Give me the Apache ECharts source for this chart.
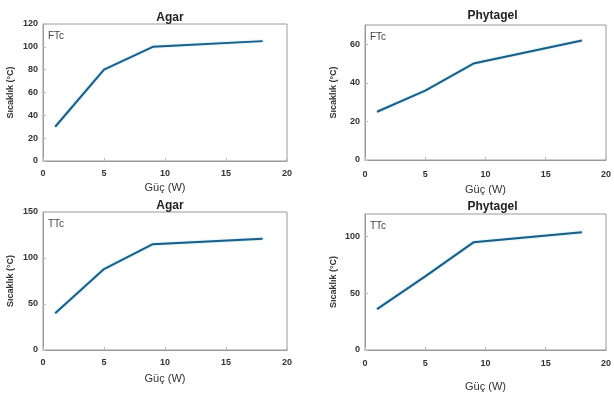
<!DOCTYPE html>
<html>
<head>
<meta charset="utf-8">
<script src="https://cdn.jsdelivr.net/npm/echarts@6/dist/echarts.min.js"></script>
<style>
  html, body { margin: 0; padding: 0; background: #fff; }
  #chart { width: 614px; height: 397px; }
</style>
</head>
<body>
<div id="chart"></div>
<script>
// power (W)
var guc = [1, 5, 9, 18];
// temperatures (°C)
var agarFTc = [30, 80, 100, 105];
var phytagelFTc = [25, 36, 50, 62];
var agarTTc = [40, 88, 115, 121];
var phytagelTTc = [36, 65, 95, 104];

var titles = ['Agar', 'Phytagel', 'Agar', 'Phytagel'];
var labels = ['FTc', 'FTc', 'TTc', 'TTc'];
var yMax = [120, 70, 150, 120];
var yStep = [20, 20, 50, 50];
var seriesData = [agarFTc, phytagelFTc, agarTTc, phytagelTTc];

var grids = [
  { left: 43, top: 24, width: 244, height: 137, titleTop: 7, xGap: 21, xMargin: 8, yGap: 28 },
  { left: 365, top: 25, width: 245, height: 135, titleTop: 5, xGap: 24, xMargin: 10, yGap: 27 },
  { left: 43, top: 212, width: 244, height: 138, titleTop: 195, xGap: 23, xMargin: 8, yGap: 28 },
  { left: 365, top: 214, width: 245, height: 136, titleTop: 196, xGap: 31, xMargin: 9, yGap: 27 }
];

var font = 'Liberation Sans';
var chart = echarts.init(document.getElementById('chart'));

var option = {
  animation: false,
  backgroundColor: '#fff',
  title: [],
  grid: [],
  xAxis: [],
  yAxis: [],
  series: [],
  graphic: []
};

grids.forEach(function (g, i) {
  option.grid.push({
    left: g.left, top: g.top, width: g.width, height: g.height,
    show: true, borderColor: '#9a9a9a', borderWidth: 1, backgroundColor: '#fff'
  });
  option.title.push({
    text: titles[i],
    left: g.left + g.width / 2, top: g.titleTop, textAlign: 'center',
    textStyle: { fontFamily: font, fontSize: 12, fontWeight: 'bold', color: '#222' }
  });
  option.xAxis.push({
    type: 'value', gridIndex: i, min: 0, max: 20, interval: 5,
    name: 'Güç (W)', nameLocation: 'middle', nameGap: g.xGap,
    nameTextStyle: { fontFamily: font, fontSize: 11, color: '#333' },
    axisLine: { show: true, lineStyle: { color: '#9a9a9a' } },
    axisTick: { show: true, inside: true, length: 3, lineStyle: { color: '#bbb' } },
    axisLabel: { fontFamily: font, fontSize: 9, fontWeight: 'bold', color: '#333', margin: g.xMargin },
    splitLine: { show: false }
  });
  option.yAxis.push({
    type: 'value', gridIndex: i, min: 0, max: yMax[i], interval: yStep[i],
    name: 'Sıcaklık (°C)', nameLocation: 'middle', nameGap: g.yGap,
    nameTextStyle: { fontFamily: font, fontSize: 9, fontWeight: 'bold', color: '#333' },
    axisLine: { show: true, lineStyle: { color: '#9a9a9a' } },
    axisTick: { show: true, inside: true, length: 3, lineStyle: { color: '#bbb' } },
    axisLabel: {
      fontFamily: font, fontSize: 9, fontWeight: 'bold', color: '#333', margin: 5,
      showMaxLabel: yMax[i] % yStep[i] === 0
    },
    splitLine: { show: false }
  });
  option.series.push({
    type: 'line', xAxisIndex: i, yAxisIndex: i,
    data: guc.map(function (x, k) { return [x, seriesData[i][k]]; }),
    symbol: 'none',
    lineStyle: { color: '#1d5d86', width: 2, shadowColor: 'rgba(80,200,230,0.6)', shadowBlur: 2 }
  });
  option.graphic.push({
    type: 'text', left: g.left + 5, top: g.top + 7,
    style: { text: labels[i], font: '10px ' + font, fill: '#444' }
  });
});

chart.setOption(option);
</script>
</body>
</html>
